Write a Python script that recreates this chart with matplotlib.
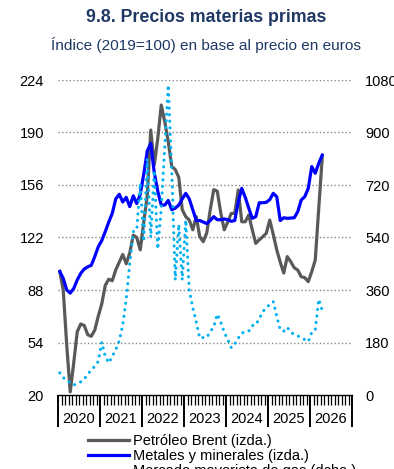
import numpy as np
import matplotlib
matplotlib.use("Agg")
from matplotlib import pyplot as plt
from matplotlib.lines import Line2D

plt.rcParams['font.family'] = ['Liberation Sans', 'DejaVu Sans']

# monthly series, Jan 2020 onwards (index 2019=100)
brent = [100, 88, 52, 22, 41, 61, 66, 65, 59, 58, 62, 71,
         79, 91, 95, 94, 101, 106, 111, 105, 112, 123.5, 122, 114,
         132, 149, 191.6, 169, 186, 207.8, 197, 184, 168, 166, 161, 140,
         135.5, 133.3, 127, 135.5, 122.5, 119.3, 125, 140, 153, 152, 138, 127,
         132, 137.6, 137.6, 152.8, 132.2, 132.2, 136.6, 127, 118.2, 120.5, 122.5, 124.7,
         133.3, 124, 114, 106, 99, 109.6, 106.3, 102.4, 100.9, 96.6, 96, 93.4,
         99.9, 107.4, 141, 174]
metales = [100, 95.5, 88, 86, 89, 94.5, 98.8, 101.6, 103, 104, 109.6, 116,
           120, 125.8, 132, 137.6, 147, 150, 145, 148, 142, 149, 144, 150,
           163, 178, 183, 164, 152, 143, 143, 146, 140, 141, 143, 147,
           150.6, 147, 140, 133, 133, 132, 131, 133, 135.5, 133.5, 133.5, 134,
           133.5, 132.5, 133, 145, 153.8, 148, 141, 134.4, 135.5, 144.5, 144.5, 144.8,
           146.5, 150.6, 148.4, 133, 134.8, 134.4, 134.6, 134.8, 138.7, 146.3, 148.4, 153.8,
           167.9, 163.6, 170, 175.4]
gas = [76, 60, 50, 42, 34, 40, 45, 55, 71, 86, 98, 115,
       181, 132, 110, 132, 155, 185, 240, 330, 450, 560, 566, 726,
       526, 810, 540, 770, 500, 640, 850, 1063, 770, 394, 585, 394,
       600, 360, 300, 250, 195, 197, 197, 217, 234, 277, 250, 215,
       190, 162, 175, 195, 212, 217, 219, 238, 240, 262, 285, 300,
       310, 320, 270, 223, 219, 232, 215, 208, 203, 196, 190, 183,
       215, 223, 328, 290]

years = list(range(2020, 2027))
left_ticks = [20, 54, 88, 122, 156, 190, 224]
right_ticks = [0, 180, 360, 540, 720, 900, 1080]
labels = ['Petróleo Brent (izda.)', 'Metales y minerales (izda.)',
          'Mercado mayorista de gas (dcha.)']

x = 2020 + (np.arange(len(brent)) + 0.5) / 12

W, H = 394, 469
fig = plt.figure(figsize=(W / 100, H / 100), dpi=100)
ax = fig.add_axes([58 / W, 1 - 395 / H, 294 / W, 315 / H])
ax2 = ax.twinx()

navy = '#1F3864'
fig.text(206 / W, 1 - 17 / H, '9.8. Precios materias primas', ha='center', va='center',
         fontsize=12.8, fontweight='bold', color=navy)
fig.text(206 / W, 1 - 45 / H, 'Índice (2019=100) en base al precio en euros', ha='center',
         va='center', fontsize=11.1, color=navy)

for v in left_ticks[1:]:
    ax.axhline(v, color='#888888', ls=':', lw=1, zorder=0)

gas_style = dict(color='#00B0F0', lw=2.2, ls=(0, (0.05, 2.1)), dash_capstyle='round')
ax.plot(x, brent, color='#595959', lw=2.3, solid_joinstyle='round')
ax.plot(x, metales, color='#0000FF', lw=2.3, solid_joinstyle='round')
ax2.plot(x, gas, **gas_style)

ax.set_xlim(2020, 2027)
ax.set_ylim(20, 224)
ax2.set_ylim(0, 1080)
ax.set_yticks(left_ticks)
ax2.set_yticks(right_ticks)
ax.tick_params(axis='y', length=0, pad=10, labelsize=10.5)
ax2.tick_params(axis='y', length=0, pad=9.5, labelsize=10.5)

ax.set_xticks(range(2020, 2028))
ax.set_xticks(2020 + np.arange(85) / 12, minor=True)
ax.set_xticklabels([])
ax.tick_params(axis='x', which='major', length=23, width=1.4, direction='out')
ax.tick_params(axis='x', which='minor', length=7, width=0.9, direction='out')
for yr in years:
    ax.text(yr + 0.5, -0.076, str(yr), transform=ax.get_xaxis_transform(),
            ha='center', va='center', fontsize=10.5)

for a in (ax, ax2):
    for s in ('left', 'right', 'top'):
        a.spines[s].set_visible(False)
ax2.spines['bottom'].set_visible(False)
ax.spines['bottom'].set_linewidth(1)

handles = [Line2D([], [], color='#595959', lw=2.3),
           Line2D([], [], color='#0000FF', lw=2.3),
           Line2D([], [], **gas_style)]
fig.legend(handles, labels, loc='upper left', bbox_to_anchor=(88 / W, 1 - 434 / H),
           frameon=False, fontsize=10.5, handlelength=2.8, handletextpad=0.3,
           labelspacing=0.08, borderpad=0, borderaxespad=0)

fig.savefig('out.png', dpi=100)
